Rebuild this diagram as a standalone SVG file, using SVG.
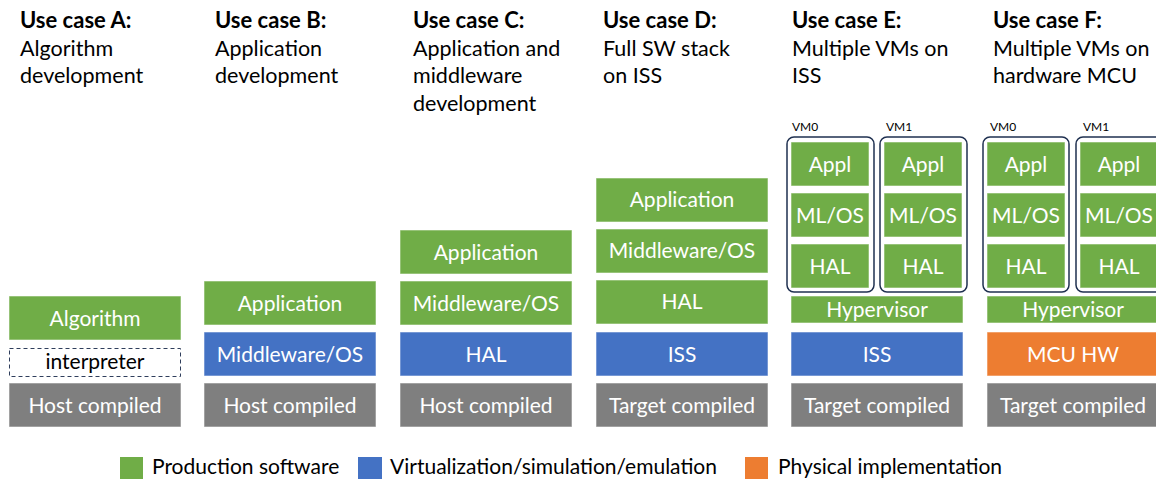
<svg xmlns="http://www.w3.org/2000/svg" width="1156" height="480" viewBox="0 0 1156 480">
<style>
text{font-family:Lato,"Noto Sans","Liberation Sans",sans-serif;}
.h{font-size:21.5px;fill:#000;}
.hb{font-weight:bold;font-size:22px;}
.bx{stroke:#ffffff;stroke-opacity:0.55;stroke-width:1;}
.g{fill:#70AD47;}
.b{fill:#4472C4;}
.k{fill:#7F7F7F;}
.o{fill:#ED7D31;}
.t{font-size:21px;fill:#fff;text-anchor:middle;}
.tk{font-size:21px;fill:#000;text-anchor:middle;}
.vm{fill:none;stroke:#1F3050;stroke-width:1.5;}
.vl{font-size:12px;fill:#000;}
.lg{font-size:21px;fill:#000;}
</style>

<g id="headers">
<text class="h" x="20" y="28"><tspan class="hb">Use case A:</tspan><tspan x="20" y="56">Algorithm</tspan><tspan x="20" y="83">development</tspan></text>
<text class="h" x="215" y="28"><tspan class="hb">Use case B:</tspan><tspan x="215" y="56">Application</tspan><tspan x="215" y="83">development</tspan></text>
<text class="h" x="413" y="28"><tspan class="hb">Use case C:</tspan><tspan x="413" y="56">Application and</tspan><tspan x="413" y="83">middleware</tspan><tspan x="413" y="111">development</tspan></text>
<text class="h" x="603" y="28"><tspan class="hb">Use case D:</tspan><tspan x="603" y="56">Full SW stack</tspan><tspan x="603" y="83">on ISS</tspan></text>
<text class="h" x="792" y="28"><tspan class="hb">Use case E:</tspan><tspan x="792" y="56">Multiple VMs on</tspan><tspan x="792" y="83">ISS</tspan></text>
<text class="h" x="993" y="28"><tspan class="hb">Use case F:</tspan><tspan x="993" y="56">Multiple VMs on</tspan><tspan x="993" y="83">hardware MCU</tspan></text>
</g>

<g id="colA">
<rect class="bx g" x="9" y="296" width="172" height="44"/><text class="t" x="95" y="326">Algorithm</text>
<rect x="9.5" y="348.5" width="171" height="28" fill="#fff" stroke="#2F3E5C" stroke-width="1" stroke-dasharray="4 3"/><text class="tk" x="95" y="369">interpreter</text>
<rect class="bx k" x="9" y="383" width="172" height="44"/><text class="t" x="95" y="413">Host compiled</text>
</g>

<g id="colB">
<rect class="bx g" x="204" y="281" width="172" height="44"/><text class="t" x="290" y="311">Application</text>
<rect class="bx b" x="204" y="332" width="172" height="44"/><text class="t" x="290" y="362">Middleware/OS</text>
<rect class="bx k" x="204" y="383" width="172" height="44"/><text class="t" x="290" y="413">Host compiled</text>
</g>

<g id="colC">
<rect class="bx g" x="400" y="230" width="172" height="44"/><text class="t" x="486" y="260">Application</text>
<rect class="bx g" x="400" y="281" width="172" height="44"/><text class="t" x="486" y="311">Middleware/OS</text>
<rect class="bx b" x="400" y="332" width="172" height="44"/><text class="t" x="486" y="362">HAL</text>
<rect class="bx k" x="400" y="383" width="172" height="44"/><text class="t" x="486" y="413">Host compiled</text>
</g>

<g id="colD">
<rect class="bx g" x="596" y="178" width="172" height="44"/><text class="t" x="682" y="207">Application</text>
<rect class="bx g" x="596" y="229" width="172" height="44"/><text class="t" x="682" y="258">Middleware/OS</text>
<rect class="bx g" x="596" y="280" width="172" height="44"/><text class="t" x="682" y="309">HAL</text>
<rect class="bx b" x="596" y="332" width="172" height="44"/><text class="t" x="682" y="362">ISS</text>
<rect class="bx k" x="596" y="383" width="172" height="44"/><text class="t" x="682" y="413">Target compiled</text>
</g>

<g id="colE">
<text class="vl" x="792" y="131">VM0</text>
<text class="vl" x="886" y="131">VM1</text>
<rect class="vm" x="787" y="137" width="87" height="155" rx="7"/>
<rect class="vm" x="880" y="137" width="87" height="155" rx="7"/>
<rect class="bx g" x="791" y="142" width="78" height="44"/><text class="t" x="830" y="172">Appl</text>
<rect class="bx g" x="791" y="193" width="78" height="44"/><text class="t" x="830" y="223">ML/OS</text>
<rect class="bx g" x="791" y="244" width="78" height="44"/><text class="t" x="830" y="274">HAL</text>
<rect class="bx g" x="884" y="142" width="78" height="44"/><text class="t" x="923" y="172">Appl</text>
<rect class="bx g" x="884" y="193" width="78" height="44"/><text class="t" x="923" y="223">ML/OS</text>
<rect class="bx g" x="884" y="244" width="78" height="44"/><text class="t" x="923" y="274">HAL</text>
<rect class="bx g" x="791" y="296" width="172" height="27"/><text class="t" x="877" y="317">Hypervisor</text>
<rect class="bx b" x="791" y="332" width="172" height="44"/><text class="t" x="877" y="362">ISS</text>
<rect class="bx k" x="791" y="383" width="172" height="44"/><text class="t" x="877" y="413">Target compiled</text>
</g>

<g id="colF">
<text class="vl" x="990" y="131">VM0</text>
<text class="vl" x="1083" y="131">VM1</text>
<rect class="vm" x="983" y="137" width="86" height="155" rx="7"/>
<rect class="vm" x="1076" y="137" width="87" height="155" rx="7"/>
<rect class="bx g" x="987" y="142" width="78" height="44"/><text class="t" x="1026" y="172">Appl</text>
<rect class="bx g" x="987" y="193" width="78" height="44"/><text class="t" x="1026" y="223">ML/OS</text>
<rect class="bx g" x="987" y="244" width="78" height="44"/><text class="t" x="1026" y="274">HAL</text>
<rect class="bx g" x="1080" y="142" width="78" height="44"/><text class="t" x="1119" y="172">Appl</text>
<rect class="bx g" x="1080" y="193" width="78" height="44"/><text class="t" x="1119" y="223">ML/OS</text>
<rect class="bx g" x="1080" y="244" width="78" height="44"/><text class="t" x="1119" y="274">HAL</text>
<rect class="bx g" x="987" y="296" width="172" height="27"/><text class="t" x="1073" y="317">Hypervisor</text>
<rect class="bx o" x="987" y="332" width="172" height="44"/><text class="t" x="1073" y="362">MCU HW</text>
<rect class="bx k" x="987" y="383" width="172" height="44"/><text class="t" x="1073" y="413">Target compiled</text>
</g>

<g id="legend">
<rect class="g" x="120" y="457" width="23" height="22"/><text class="lg" x="152" y="474">Production software</text>
<rect class="b" x="358" y="457" width="24" height="22"/><text class="lg" x="390" y="474">Virtualization/simulation/emulation</text>
<rect class="o" x="745" y="457" width="23" height="22"/><text class="lg" x="778" y="474">Physical implementation</text>
</g>
</svg>
